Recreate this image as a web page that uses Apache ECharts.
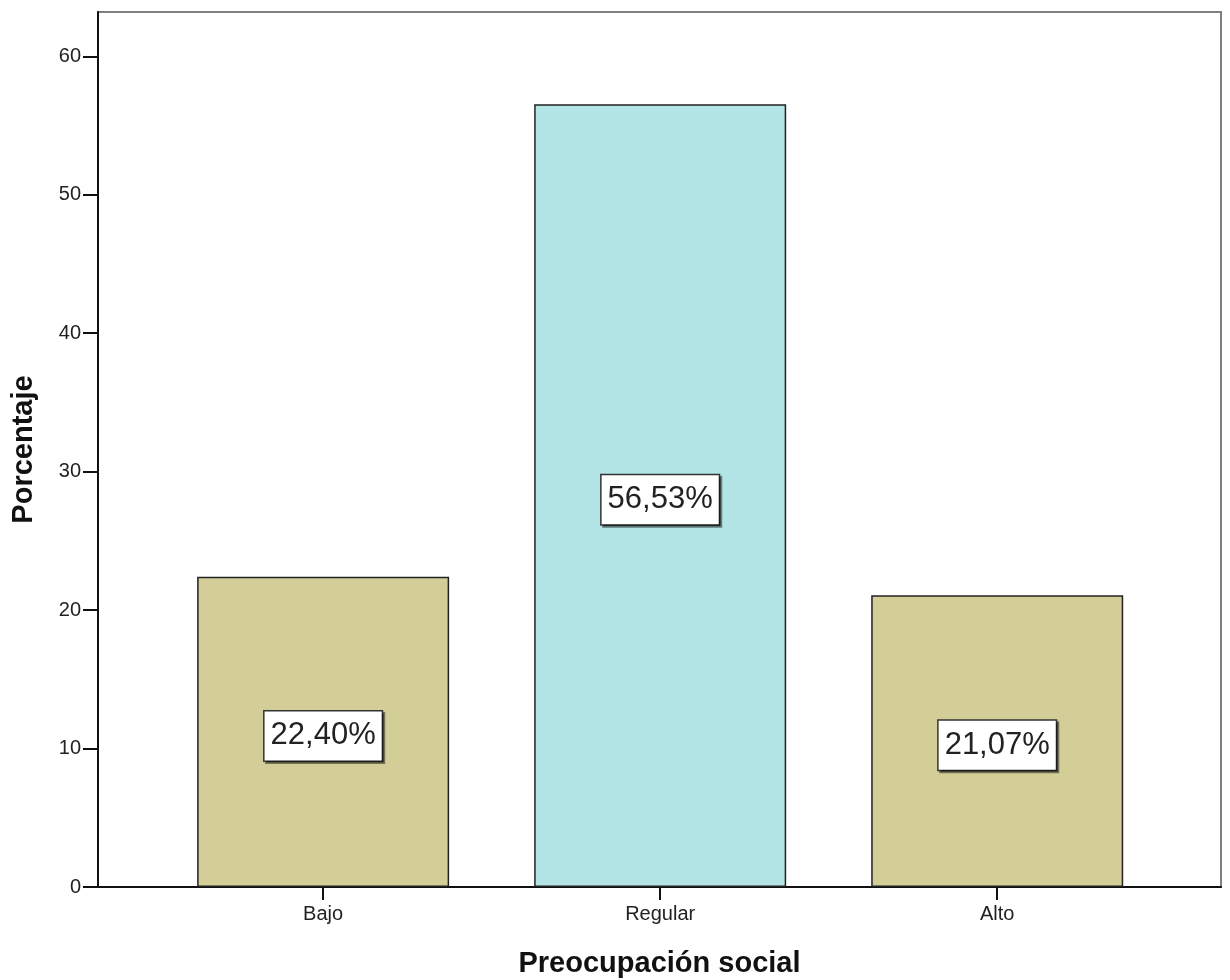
<!DOCTYPE html>
<html>
<head>
<meta charset="utf-8">
<script src="https://cdn.jsdelivr.net/npm/echarts@6/dist/echarts.min.js"></script>
<style>html,body{margin:0;padding:0;background:#fff}#c{width:1230px;height:980px}</style>
</head>
<body>
<div id="c"></div>
<script>
const categories = ['Bajo', 'Regular', 'Alto'];
const values = [22.40, 56.53, 21.07];
const barColors = ['#d3cd97', '#b4e5e6', '#d3cd97'];
const yTicks = [0, 10, 20, 30, 40, 50, 60];
const xTickIdx = [0, 1, 2];

const chart = echarts.init(document.getElementById('c'));
const font = '"Liberation Sans", Arial, sans-serif';
chart.setOption({
  animation: false,
  backgroundColor: '#fff',
  grid: { left: 98, right: 9, top: 12, bottom: 93, outerBoundsMode: 'none', containLabel: false,
    show: true, borderColor: '#808080', borderWidth: 2, backgroundColor: 'transparent' },
  xAxis: {
    type: 'value', min: -0.668, max: 2.664,
    name: 'Preocupación social', nameLocation: 'middle', nameGap: 62,
    nameTextStyle: { fontFamily: font, fontWeight: 'bold', fontSize: 29, color: '#111' },
    axisLine: { show: true, onZero: false, lineStyle: { color: '#111', width: 2 } },
    axisTick: { show: true, length: 13, customValues: xTickIdx, lineStyle: { color: '#111', width: 2 } },
    axisLabel: { customValues: xTickIdx, margin: 17, fontFamily: font, fontSize: 20, color: '#222',
      formatter: v => categories[Math.round(v)] },
    splitLine: { show: false }
  },
  yAxis: {
    type: 'value', min: 0, max: 63.2,
    name: 'Porcentaje', nameLocation: 'middle', nameGap: 60, nameRotate: 90,
    nameTextStyle: { fontFamily: font, fontWeight: 'bold', fontSize: 29, color: '#111' },
    axisLine: { show: true, onZero: false, lineStyle: { color: '#111', width: 2 } },
    axisTick: { show: true, length: 15, customValues: yTicks, lineStyle: { color: '#111', width: 2 } },
    axisLabel: { customValues: yTicks, margin: 17, fontFamily: font, fontSize: 20, color: '#222' },
    splitLine: { show: false }
  },
  series: [{
    type: 'bar',
    barWidth: 252,
    data: values.map((v, i) => ({ value: [i, v], itemStyle: { color: barColors[i] } })),
    itemStyle: { borderColor: '#222', borderWidth: 1.5 },
    label: {
      show: true, position: 'inside', offset: [0, 4],
      formatter: p => p.value[1].toFixed(2).replace('.', ',') + '%',
      fontFamily: font, fontSize: 31, color: '#222', lineHeight: 32,
      backgroundColor: '#fff', borderColor: '#333', borderWidth: 1.5,
      padding: [9, 6, 8, 6],
      shadowColor: 'rgba(0,0,0,0.45)', shadowOffsetX: 2, shadowOffsetY: 2, shadowBlur: 0
    }
  }]
});
</script>
</body>
</html>
